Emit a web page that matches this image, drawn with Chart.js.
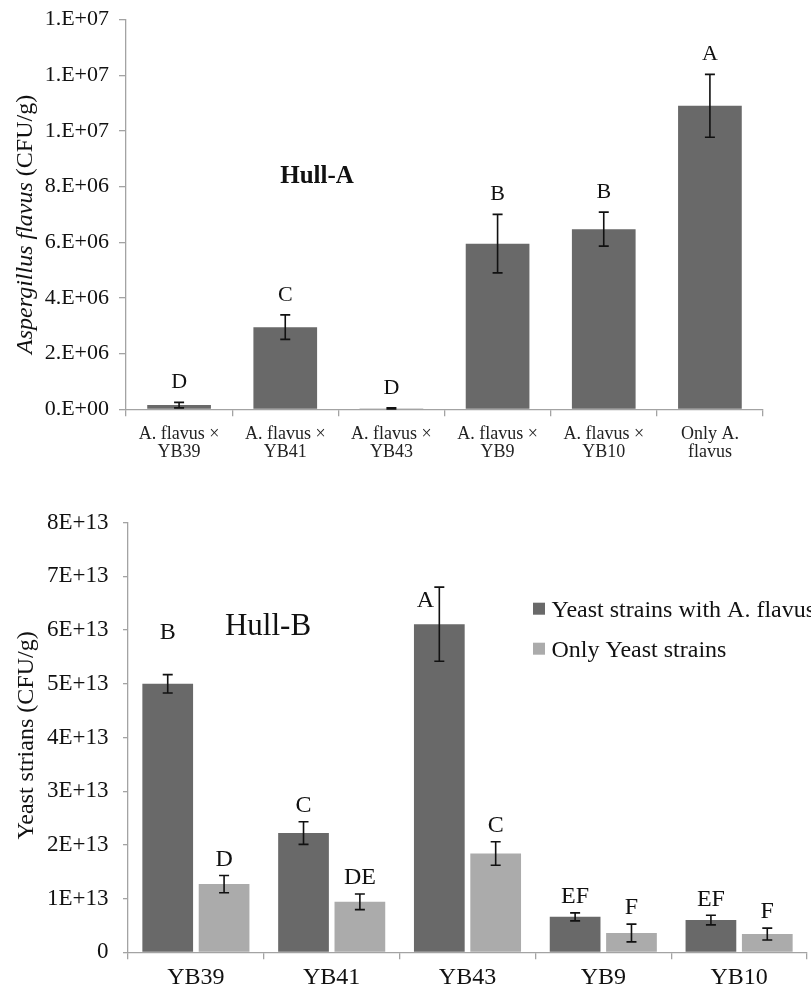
<!DOCTYPE html>
<html>
<head>
<meta charset="utf-8">
<script src="https://cdn.jsdelivr.net/npm/chart.js@4/dist/chart.umd.min.js"></script>
<style>
  html, body { margin: 0; padding: 0; background: #fff; overflow: hidden; }
  .wrap { position: absolute; left: 0; width: 811px; }
  #wrapA { top: 0; height: 480px; }
  #wrapB { top: 480px; height: 509px; }
</style>
</head>
<body>
<div class="wrap" id="wrapA"><canvas id="hullA" width="811" height="480"></canvas></div>
<div class="wrap" id="wrapB"><canvas id="hullB" width="811" height="509"></canvas></div>
<script>
// Hull-A: A. flavus counts
const hullALabels = [
  ['A. flavus \u00d7', 'YB39'],
  ['A. flavus \u00d7', 'YB41'],
  ['A. flavus \u00d7', 'YB43'],
  ['A. flavus \u00d7', 'YB9'],
  ['A. flavus \u00d7', 'YB10'],
  ['Only A.', 'flavus'],
];
const hullAMeans = [1.5e5, 2.95e6, 3e4, 5.95e6, 6.47e6, 1.09e7];
const hullAErrors = [1.0e5, 4.4e5, 2e4, 1.05e6, 6.1e5, 1.13e6];
const hullALetters = ['D', 'C', 'D', 'B', 'B', 'A'];
const hullATickLabels = ['0.E+00', '2.E+06', '4.E+06', '6.E+06', '8.E+06', '1.E+07', '1.E+07', '1.E+07'];

// Hull-B: yeast counts
const hullBStrains = ['YB39', 'YB41', 'YB43', 'YB9', 'YB10'];
const withFlavus = [5.0e13, 2.22e13, 6.11e13, 0.66e13, 0.6e13];
const withFlavusErr = [0.17e13, 0.21e13, 0.69e13, 0.075e13, 0.09e13];
const withFlavusLetters = ['B', 'C', 'A', 'EF', 'EF'];
const onlyYeast = [1.27e13, 0.94e13, 1.84e13, 0.36e13, 0.34e13];
const onlyYeastErr = [0.16e13, 0.145e13, 0.22e13, 0.165e13, 0.11e13];
const onlyYeastLetters = ['D', 'DE', 'C', 'F', 'F'];
const hullBTickLabels = ['0', '1E+13', '2E+13', '3E+13', '4E+13', '5E+13', '6E+13', '7E+13', '8E+13'];

const SERIF = "'Liberation Serif', 'Times New Roman', serif";
const AXIS = '#a3a3a3';
const DARK = '#696969';
const LIGHT = '#ababab';

Chart.defaults.font.family = SERIF;
Chart.defaults.color = '#111';

// error bars + significance letters
const errorBars = {
  id: 'errorBars',
  afterDatasetsDraw(chart, args, opts) {
    const ctx = chart.ctx;
    const y = chart.scales.y;
    chart.data.datasets.forEach((ds, di) => {
      const meta = chart.getDatasetMeta(di);
      meta.data.forEach((bar, i) => {
        const v = ds.data[i], e = ds.errors[i];
        const top = y.getPixelForValue(v + e);
        const bot = y.getPixelForValue(Math.max(v - e, 0));
        ctx.save();
        ctx.strokeStyle = '#111';
        ctx.lineWidth = 1.6;
        ctx.beginPath();
        ctx.moveTo(bar.x, top); ctx.lineTo(bar.x, bot);
        ctx.moveTo(bar.x - 5, top); ctx.lineTo(bar.x + 5, top);
        ctx.moveTo(bar.x - 5, bot); ctx.lineTo(bar.x + 5, bot);
        ctx.stroke();
        const nudge = (opts.nudge || {})[di + '-' + i] || [0, 0];
        ctx.fillStyle = '#111';
        ctx.font = opts.letterFont;
        ctx.textAlign = 'center';
        ctx.textBaseline = 'middle';
        ctx.fillText(ds.letters[i], bar.x + nudge[0], top - opts.letterGap + nudge[1]);
        ctx.restore();
      });
    });
  }
};

// rotated y title (parts may differ in style) and free text
const decorations = {
  id: 'decorations',
  afterDraw(chart, args, opts) {
    const ctx = chart.ctx;
    const area = chart.chartArea;
    ctx.save();
    ctx.fillStyle = '#111';
    // y title
    const parts = opts.yTitle;
    let total = 0;
    parts.forEach(p => { ctx.font = p.font; p.w = ctx.measureText(p.text).width; total += p.w; });
    ctx.translate(opts.yTitleX, (area.top + area.bottom) / 2 + (opts.yTitleShift || 0));
    ctx.rotate(-Math.PI / 2);
    ctx.textAlign = 'left';
    ctx.textBaseline = 'alphabetic';
    let x = -total / 2;
    parts.forEach(p => { ctx.font = p.font; ctx.fillText(p.text, x, 0); x += p.w; });
    ctx.restore();
    // panel title
    ctx.save();
    ctx.fillStyle = '#111';
    ctx.font = opts.panel.font;
    ctx.textAlign = 'center';
    ctx.textBaseline = 'alphabetic';
    ctx.fillText(opts.panel.text, opts.panel.x, opts.panel.y);
    // legend
    if (opts.legend) {
      const L = opts.legend;
      ctx.textAlign = 'left';
      ctx.font = L.font;
      chart.data.datasets.forEach((ds, i) => {
        const base = L.y + i * L.step;
        ctx.fillStyle = ds.backgroundColor;
        ctx.fillRect(L.x, base - 14, 12, 12);
        ctx.fillStyle = '#111';
        ctx.fillText(ds.label, L.x + 18.5, base);
      });
    }
    ctx.restore();
  }
};

function yAxis(tickLabels, max, step, width, fontSize, tickLen, pad) {
  return {
    min: 0, max: max,
    border: { color: AXIS, width: 1.3 },
    grid: { drawOnChartArea: false, drawTicks: true, tickLength: tickLen, color: AXIS, lineWidth: 1.3 },
    ticks: {
      stepSize: step, padding: pad, color: '#111',
      font: { size: fontSize, family: SERIF },
      callback: (v, i) => tickLabels[i]
    },
    afterFit: s => { s.width = width; s.paddingTop = 0; s.paddingBottom = 0; }
  };
}

function xAxis(height, fontSize, lineHeight, pad, color) {
  return {
    border: { color: AXIS, width: 1.3 },
    grid: { drawOnChartArea: false, drawTicks: true, tickLength: 7, color: AXIS, lineWidth: 1.3, offset: true },
    ticks: { padding: pad, color: color, maxRotation: 0, autoSkip: false,
             font: { size: fontSize, family: SERIF, lineHeight: lineHeight } },
    afterFit: s => { s.height = height; s.paddingLeft = 0; s.paddingRight = 0; }
  };
}

new Chart(document.getElementById('hullA'), {
  type: 'bar',
  data: {
    labels: hullALabels,
    datasets: [{
      label: 'Hull-A',
      data: hullAMeans,
      errors: hullAErrors,
      letters: hullALetters,
      backgroundColor: DARK,
      categoryPercentage: 0.6,
      barPercentage: 1.0
    }]
  },
  options: {
    responsive: false,
    animation: false,
    layout: { padding: { left: 0, right: 48, top: 19.5, bottom: 0 } },
    plugins: {
      legend: { display: false },
      tooltip: { enabled: false },
      errorBars: { letterFont: '22px ' + SERIF, letterGap: 20 },
      decorations: {
        yTitleX: 32,
        yTitleShift: 10,
        yTitle: [
          { text: 'Aspergillus flavus ', font: 'italic 24px ' + SERIF },
          { text: '(CFU/g)', font: '24px ' + SERIF }
        ],
        panel: { text: 'Hull-A', font: 'bold 25px ' + SERIF, x: 317, y: 182.7 }
      }
    },
    scales: {
      x: xAxis(480 - 409.3, 18, 1.0, 8.7, '#222'),
      y: yAxis(hullATickLabels, 1.4e7, 2e6, 126, 22, 7, 10)
    }
  },
  plugins: [errorBars, decorations]
});

new Chart(document.getElementById('hullB'), {
  type: 'bar',
  data: {
    labels: hullBStrains,
    datasets: [{
      label: 'Yeast strains with A. flavus',
      data: withFlavus,
      errors: withFlavusErr,
      letters: withFlavusLetters,
      backgroundColor: DARK,
      categoryPercentage: 0.83,
      barPercentage: 0.9
    }, {
      label: 'Only Yeast strains',
      data: onlyYeast,
      errors: onlyYeastErr,
      letters: onlyYeastLetters,
      backgroundColor: LIGHT,
      categoryPercentage: 0.83,
      barPercentage: 0.9
    }]
  },
  options: {
    responsive: false,
    animation: false,
    layout: { padding: { left: 0, right: 4, top: 42.7, bottom: 0 } },
    plugins: {
      legend: { display: false },
      tooltip: { enabled: false },
      errorBars: { letterFont: '24px ' + SERIF, letterGap: 16, nudge: { '0-0': [0, -26], '0-2': [-14, 30] } },
      decorations: {
        yTitleX: 33,
        yTitleShift: -2,
        yTitle: [{ text: 'Yeast strians (CFU/g)', font: '24px ' + SERIF }],
        panel: { text: 'Hull-B', font: '31px ' + SERIF, x: 268, y: 155 },
        legend: { x: 533, y: 136.7, step: 40, font: '24px ' + SERIF }
      }
    },
    scales: {
      x: xAxis(509 - 472.3, 24, 1.2, 4.3, '#111'),
      y: yAxis(hullBTickLabels, 8e13, 1e13, 128, 23, 5, 14.5)
    }
  },
  plugins: [errorBars, decorations]
});
</script>
</body>
</html>
